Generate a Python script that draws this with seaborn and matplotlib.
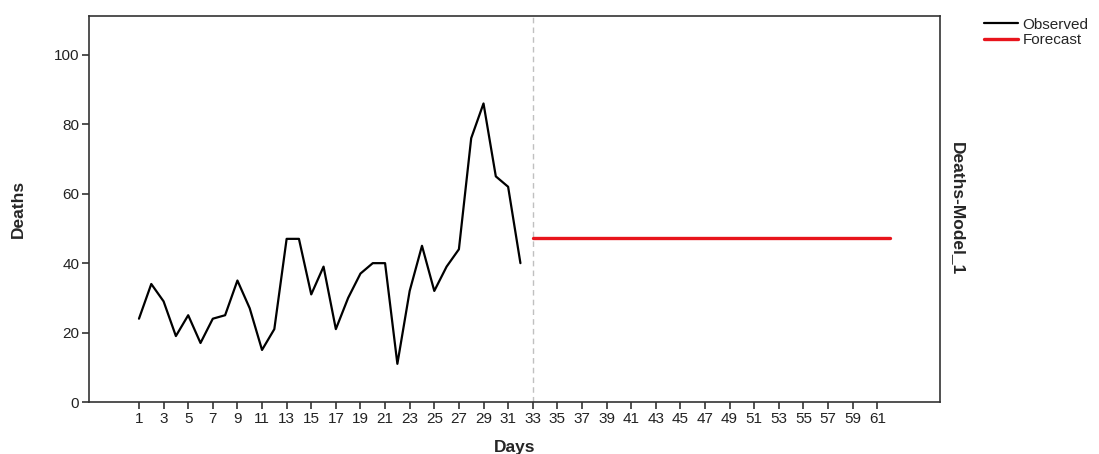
import matplotlib
matplotlib.use("Agg")
import matplotlib.pyplot as plt
import pandas as pd
import seaborn as sns

# observed daily deaths, days 1..32
obs_days = list(range(1, 33))
obs_deaths = [24, 34, 29, 19, 25, 17, 24, 25, 35, 27, 15, 21, 47, 47, 31, 39,
              21, 30, 37, 40, 40, 11, 32, 45, 32, 39, 44, 76, 86, 65, 62, 40]

# flat forecast, days 33..62
fc_days = list(range(33, 63))
fc_deaths = [47.3] * len(fc_days)

tick_days = list(range(1, 62, 2))

sns.set_theme(style="white")
plt.rcParams["font.family"] = ["Liberation Sans", "DejaVu Sans"]
label_font = ["Liberation Sans Narrow", "Liberation Sans", "DejaVu Sans"]

obs_df = pd.DataFrame({"Days": obs_days, "Deaths": obs_deaths})
fc_df = pd.DataFrame({"Days": fc_days, "Deaths": fc_deaths})

fig = plt.figure(figsize=(10.99, 4.54), dpi=100)
ax = fig.add_axes([0.081, 0.1145, 0.774, 0.8503])

sns.lineplot(data=obs_df, x="Days", y="Deaths", ax=ax, color="black",
             linewidth=1.6, label="Observed")
sns.lineplot(data=fc_df, x="Days", y="Deaths", ax=ax, color="#e8141c",
             linewidth=2.4, label="Forecast")
ax.axvline(33, color="#c0c0c0", linestyle=(0, (4, 3)), linewidth=1.0, zorder=0)

ax.set_xlim(-3.06, 66.07)
ax.set_ylim(0, 111.2)
ax.set_xticks(tick_days)
ax.set_yticks([0, 20, 40, 60, 80, 100])
ax.tick_params(axis="both", direction="out", length=5, width=1.2,
               labelsize=11, color="#333333", labelcolor="#222222", pad=2,
               bottom=True, left=True)

for sp in ax.spines.values():
    sp.set_color("#333333")
    sp.set_linewidth(1.2)

ax.set_xlabel("Days", fontsize=12.5, fontweight="bold", family=label_font, labelpad=10)
ax.set_ylabel("Deaths", fontsize=12.5, fontweight="bold", family=label_font, labelpad=20)

ax2 = ax.twinx()
ax2.set_yticks([])
ax2.set_ylabel("Deaths-Model_1", fontsize=12.5, fontweight="bold", family=label_font,
               rotation=-90, labelpad=18)
for sp in ax2.spines.values():
    sp.set_visible(False)

handles, labels = ax.get_legend_handles_labels()
ax.get_legend().remove()
fig.legend(handles, labels, loc="upper left", bbox_to_anchor=(0.886, 0.985),
           frameon=False, fontsize=11, handlelength=2.2, handletextpad=0.3,
           labelspacing=0.1, borderaxespad=0.3)

fig.savefig("out.png", dpi=100)
plt.close(fig)
